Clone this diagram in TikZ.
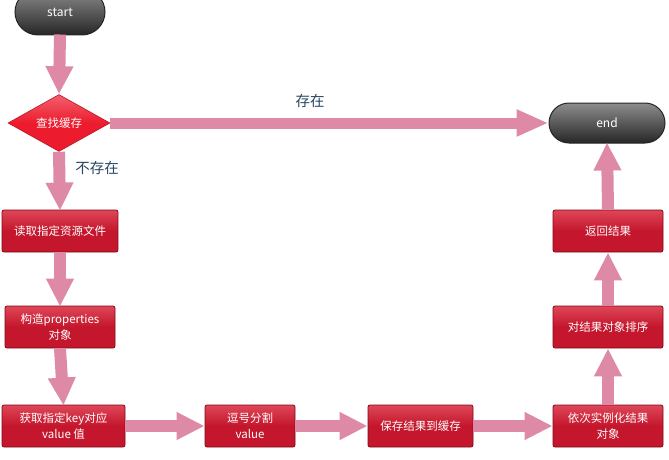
\documentclass[tikz,border=0pt]{standalone}
\usepackage{fontspec}
\newfontfamily\cjk{Noto Sans CJK SC}
\usetikzlibrary{shapes.geometric,arrows.meta}
\definecolor{boxred}{RGB}{196,22,44}
\definecolor{boxtop}{RGB}{222,70,88}
\definecolor{boxedge}{RGB}{130,10,25}
\definecolor{arrowpink}{RGB}{222,138,166}
\definecolor{labelblue}{RGB}{40,70,100}
\definecolor{diared}{RGB}{236,28,46}
\tikzset{
  stepbox/.style={draw=boxedge, line width=0.8pt, rounded corners=2pt,
    top color=boxtop, bottom color=boxred, middle color=boxred,
    text=white, font=\cjk\fontsize{11.5}{16}\selectfont, align=center,
    inner sep=2pt},
  pill/.style={draw=black!85, line width=1pt, rounded corners=20pt,
    top color=black!45, bottom color=black!85,
    text=white, font=\cjk\fontsize{12}{14}\selectfont},
  decide/.style={diamond, draw=diared!80!black, line width=0.6pt,
    top color=diared!70!white, bottom color=diared, middle color=diared,
    text=white, font=\cjk\fontsize{11.5}{14}\selectfont, aspect=1.8, inner sep=1pt},
  flow/.style={draw=arrowpink, line width=12pt,
    -{Triangle[length=28pt,width=26pt,fill=arrowpink]}},
  flowh/.style={draw=arrowpink, line width=11pt,
    -{Triangle[length=32pt,width=25pt,fill=arrowpink]}},
  lbl/.style={text=labelblue, font=\cjk\fontsize{14.5}{16}\selectfont},
}
\begin{document}
\begin{tikzpicture}[x=1pt,y=-1pt]
\useasboundingbox (0,0) rectangle (669,460);
\clip (0,0) rectangle (669,460);
\fill[white] (0,0) rectangle (669,460);

\node[pill, minimum width=90pt, minimum height=46pt, rounded corners=23pt] (start) at (60,12) {start};
\node[decide, minimum width=102pt, minimum height=57pt] (dia) at (59,123) {查找缓存};
\node[pill, minimum width=116pt, minimum height=40pt] (end) at (607,123) {end};

\node[stepbox, minimum width=116pt, minimum height=42pt] (b1) at (60,231) {读取指定资源文件};
\node[stepbox, minimum width=110pt, minimum height=42pt] (b2) at (60,327) {构造properties\\对象};
\node[stepbox, minimum width=123pt, minimum height=42pt] (b3) at (63.5,426) {获取指定key对应\\value 值};
\node[stepbox, minimum width=90pt, minimum height=42pt] (b4) at (250,426) {逗号分割\\value};
\node[stepbox, minimum width=105pt, minimum height=42pt] (b5) at (420.5,426) {保存结果到缓存};
\node[stepbox, minimum width=110pt, minimum height=42pt] (b6) at (608,426) {依次实例化结果\\对象};
\node[stepbox, minimum width=110pt, minimum height=42pt] (b7) at (608,327) {对结果对象排序};
\node[stepbox, minimum width=110pt, minimum height=42pt] (b8) at (608,231) {返回结果};

\draw[flow] ([yshift=1pt]start.south) -- (dia.north);
\draw[flowh] (dia.east) -- (end.west);
\draw[flow] (dia.south) -- ([yshift=-1pt]b1.north);
\draw[flow] (b1.south) -- ([yshift=-1pt]b2.north);
\draw[flow] (b2.south) -- ([yshift=-1pt]b3.north);
\draw[flow] (b3.east) -- (b4.west);
\draw[flow] (b4.east) -- (b5.west);
\draw[flow] (b5.east) -- (b6.west);
\draw[flow] (b6.north) -- (b7.south);
\draw[flow] (b7.north) -- (b8.south);
\draw[flow] (b8.north) -- ([yshift=1pt]end.south);

\node[lbl] (yes) at (310,101) {存在};
\node[lbl] (no) at (97,168) {不存在};
\end{tikzpicture}
\end{document}
